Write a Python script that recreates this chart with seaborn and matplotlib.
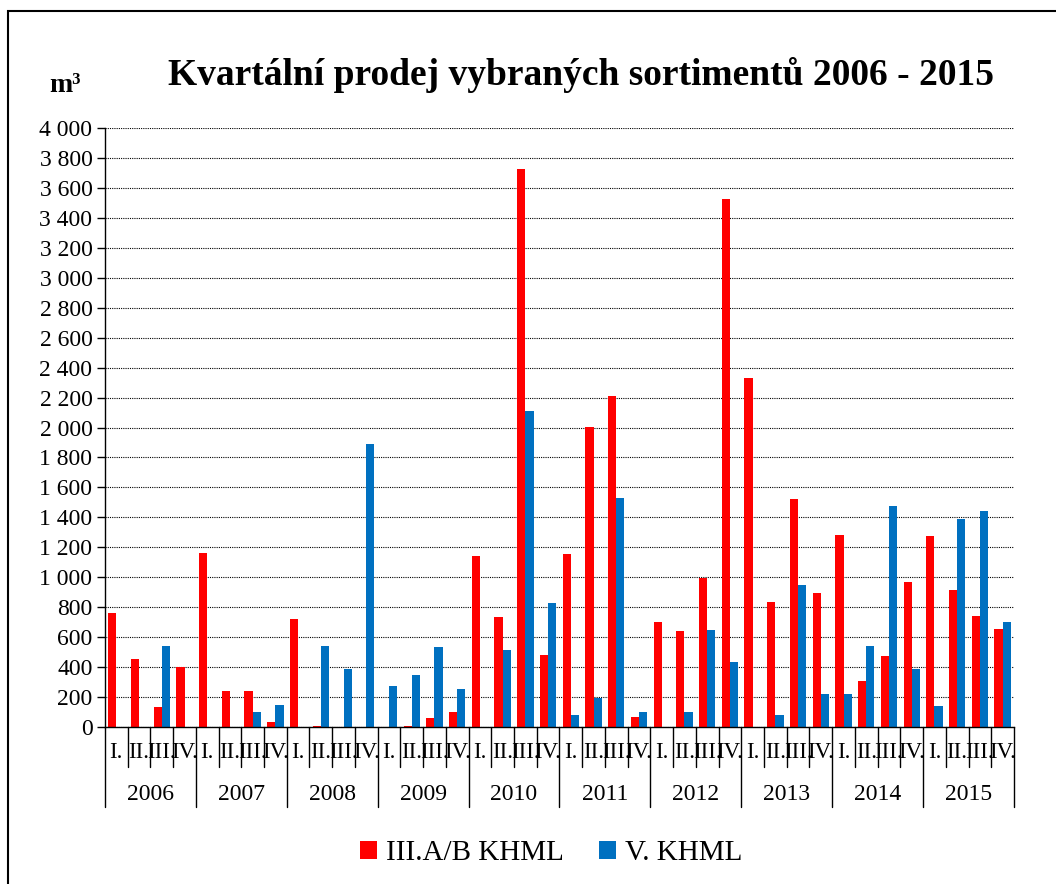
import pandas as pd
import matplotlib
matplotlib.use("Agg")
import matplotlib.pyplot as plt
import matplotlib.transforms as mtransforms
from matplotlib.patches import Rectangle
from matplotlib.ticker import FuncFormatter, MultipleLocator
import seaborn as sns

years = [2006, 2007, 2008, 2009, 2010, 2011, 2012, 2013, 2014, 2015]
quarters = ["I.", "II.", "III.", "IV."]
series_names = ["III.A/B KHML", "V. KHML"]

# m3 per quarter
red_values = [
    763, 451, 136, 402,
    1165, 238, 240, 31,
    724, 5, 0, 0,
    0, 5, 58, 102,
    1140, 734, 3726, 483,
    1153, 2006, 2209, 68,
    703, 644, 994, 3528,
    2331, 833, 1523, 896,
    1280, 305, 477, 969,
    1276, 913, 744, 657,
]
blue_values = [
    0, 0, 538, 0,
    0, 0, 98, 145,
    0, 540, 389, 1890,
    271, 345, 536, 253,
    0, 517, 2110, 828,
    79, 192, 1526, 102,
    0, 99, 650, 432,
    0, 82, 946, 220,
    218, 541, 1479, 385,
    143, 1387, 1441, 704,
]

colors = ["#FF0000", "#0070C0"]

slots = [f"{y}-{q}" for y in years for q in quarters]
df = pd.DataFrame({
    "slot": slots * 2,
    "value": red_values + blue_values,
    "series": [series_names[0]] * len(slots) + [series_names[1]] * len(slots),
})

sns.set_style("white")
plt.rcParams["font.family"] = ["Liberation Serif", "DejaVu Serif"]
plt.rcParams["text.color"] = "black"
plt.rcParams["ytick.color"] = "black"
plt.rcParams["xtick.color"] = "black"

fig = plt.figure(figsize=(10.56, 8.84), dpi=100)
ax = fig.add_axes([0.0994, 0.1776, 0.8608, 0.6776])

sns.barplot(data=df, x="slot", y="value", hue="series", order=slots,
            hue_order=series_names, palette=colors, width=0.72,
            saturation=1, errorbar=None, linewidth=0, ax=ax)

ax.set_xlim(-0.5, len(slots) - 0.5)
ax.set_ylim(0, 4000)
ax.yaxis.set_major_locator(MultipleLocator(200))
ax.yaxis.set_major_formatter(FuncFormatter(lambda v, p: f"{int(v):,}".replace(",", " ")))
ax.tick_params(axis="y", labelsize=17, length=6, width=1, color="black",
               labelcolor="black", direction="out", left=True, pad=3)
ax.set_xticks([])
ax.set_xlabel("")
ax.set_ylabel("")
ax.set_axisbelow(True)
ax.yaxis.grid(True, color="black", linestyle=(0, (1, 1)), linewidth=0.8)
for side in ["top", "right"]:
    ax.spines[side].set_visible(False)
for side in ["left", "bottom"]:
    ax.spines[side].set_color("black")
    ax.spines[side].set_linewidth(1)

# two-level category axis
trans = mtransforms.blended_transform_factory(ax.transData, ax.transAxes)
for i in range(len(slots) + 1):
    bottom = -0.1336 if i % 4 == 0 else -0.0668
    ax.plot([i - 0.5, i - 0.5], [0, bottom], color="black", lw=1,
            transform=trans, clip_on=False)
for i, s in enumerate(slots):
    ax.text(i, -0.0434, quarters[i % 4], transform=trans, ha="center",
            va="center", fontsize=16.5, color="black")
for j, y in enumerate(years):
    ax.text(j * 4 + 1.5, -0.112, str(y), transform=trans, ha="center",
            va="center", fontsize=17, color="black")

handles, labels = ax.get_legend_handles_labels()
if ax.legend_ is not None:
    ax.legend_.remove()
fig.legend(handles, labels, loc="center", bbox_to_anchor=(0.522, 0.035),
           ncol=2, frameon=False, fontsize=21, handlelength=0.6,
           handleheight=0.6, handletextpad=0.3, columnspacing=1.2,
           labelcolor="black")

fig.text(0.55, 0.915, "Kvartální prodej vybraných sortimentů 2006 - 2015",
         ha="center", va="center", fontsize=27, fontweight="bold",
         color="black")
fig.text(0.062, 0.903, "m³", ha="center", va="center", fontsize=20,
         fontweight="bold", color="black")

# outer frame of the chart
fig.patches.append(Rectangle((8 / 1056, -0.1), 2, 1.1 - 11 / 884,
                             transform=fig.transFigure, fill=False,
                             edgecolor="black", linewidth=1.5))

fig.savefig("out.png", dpi=100)
